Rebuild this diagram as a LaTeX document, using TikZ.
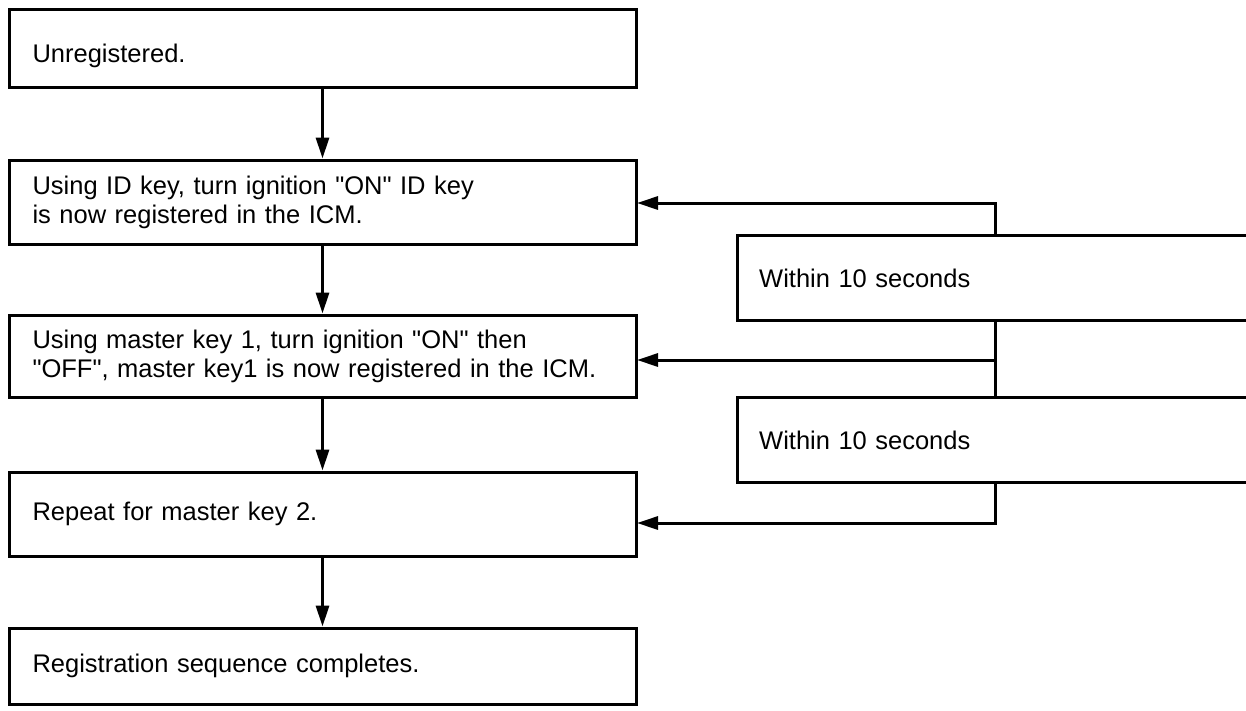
\documentclass[tikz,border=0pt]{standalone}
\usepackage{fontspec}
\setmainfont{Liberation Sans}[Ligatures=TeXOff]
\usetikzlibrary{arrows.meta}
\begin{document}
\begin{tikzpicture}[x=1pt,y=-1pt,
  every node/.style={font=\fontsize{25.5}{29}\selectfont},
  box/.style={draw, line width=3pt, minimum width=627pt, inner xsep=23pt,
    text width=580pt, align=left},
  rbox/.style={draw=none, minimum width=509pt, inner xsep=22pt,
    text width=465pt, align=left, anchor=west},
  side/.style={line width=3pt},
  arr/.style={line width=3pt, -{Triangle[length=21pt,width=13pt]}}]
\useasboundingbox (0,0) rectangle (1246,710);
\node[box, minimum height=78pt, text height=28pt, text depth=0pt] (b1) at (322.5,48) {Unregistered.};
\node[box, minimum height=84pt] (b2) at (322.5,202) {Using ID key, turn ignition "ON" ID key\\is now registered in the ICM.};
\node[box, minimum height=82pt] (b3) at (322.5,356) {Using master key 1, turn ignition "ON" then\\"OFF", master key1 is now registered in the ICM.};
\node[box, minimum height=84pt] (b4) at (322.5,514) {Repeat for master key 2.};
\node[box, minimum height=76pt] (b5) at (322.5,666) {Registration sequence completes.};
\node[rbox, minimum height=84pt] (r1) at (737,278) {Within 10 seconds};
\node[rbox, minimum height=84pt] (r2) at (737,440) {Within 10 seconds};
\draw[side] (r1.north east) -- (r1.north west) -- (r1.south west) -- (r1.south east);
\draw[side] (r2.north east) -- (r2.north west) -- (r2.south west) -- (r2.south east);
\draw[arr] (b1.south) -- (b2.north);
\draw[arr] (b2.south) -- (b3.north);
\draw[arr] (b3.south) -- (b4.north);
\draw[arr] (b4.south) -- (b5.north);
\coordinate (t1) at (995,236);
\coordinate (u1) at (995,320);
\coordinate (t2) at (995,398);
\coordinate (u2) at (995,482);
\coordinate (e2) at (637,203);
\coordinate (e3) at (637,360);
\coordinate (e4) at (637,523);
\draw[arr] (t1) |- (e2);
\draw[arr] (t2) -- (u1 |- e3) -- (e3);
\draw[side] (u1) -- (t2);
\draw[arr] (u2) |- (e4);
\end{tikzpicture}
\end{document}
